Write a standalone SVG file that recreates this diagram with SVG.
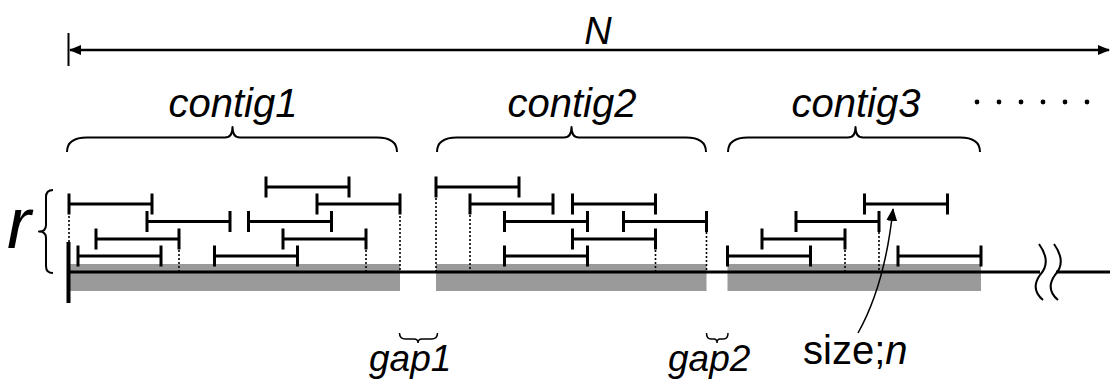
<svg xmlns="http://www.w3.org/2000/svg" xmlns:xlink="http://www.w3.org/1999/xlink" width="1110" height="383" viewBox="0 0 1110 383">
  <style>
    .lbl { font-family: "Liberation Sans", Arial, sans-serif; fill: #000; }
    .it { font-style: italic; }
    .brace { fill: none; stroke: #000; stroke-width: 2; stroke-linejoin: round; }
    .thin { fill: none; stroke: #000; stroke-width: 1.5; }
    .dot { stroke: #000; stroke-width: 1.6; stroke-dasharray: 2 2; fill: none; }
    .cov { fill: #9a9a9a; }
    .rd { fill: none; stroke: #000; stroke-width: 3; }
  </style>
  <defs>
    <!-- one read: a bar of 83 px with end ticks -->
    <path id="read" class="rd" d="M0,-10.5v21M0,0h83M83,-10.5v21"/>
    <marker id="head" viewBox="0 0 12 10" refX="11" refY="5" markerWidth="12" markerHeight="10" markerUnits="userSpaceOnUse" orient="auto-start-reverse">
      <path d="M0,0L12,5L0,10z" fill="#000"/>
    </marker>
    <marker id="head2" viewBox="0 0 13 11" refX="12" refY="5.5" markerWidth="13" markerHeight="11" markerUnits="userSpaceOnUse" orient="auto">
      <path d="M0,0L13,5.5L0,11z" fill="#000"/>
    </marker>
  </defs>

  <!-- genome length N -->
  <g id="length">
    <line x1="68.5" y1="33" x2="68.5" y2="66" stroke="#000" stroke-width="2"/>
    <text class="lbl it" x="598" y="44" font-size="38" text-anchor="middle">N</text>
  </g>

  <!-- coverage areas -->
  <g id="coverage">
    <rect class="cov" x="68" y="264" width="332" height="27"/>
    <rect class="cov" x="436" y="264" width="270.5" height="27"/>
    <rect class="cov" x="727.5" y="264" width="253.5" height="27"/>
  </g>

  <!-- reference axis with break -->
  <g id="axis">
    <line x1="68" y1="272" x2="1040" y2="272" stroke="#000" stroke-width="3"/>
    <line x1="1056" y1="272" x2="1110" y2="272" stroke="#000" stroke-width="3"/>
    <rect x="66.5" y="242" width="4" height="61" fill="#000"/>
    <path class="brace" d="M1039,244 Q1052,262 1040,275 Q1030,289 1043,300"/>
    <path class="brace" d="M1054,244 Q1067,262 1055,275 Q1045,289 1058,300"/>
  </g>

  <!-- read depth r -->
  <g id="depth">
    <text class="lbl it" x="7" y="248" font-size="72">r</text>
    <path class="brace" d="M53,190 Q46,190 46,197 L46,225 Q46,231.5 39,231.5 Q46,231.5 46,238 L46,266 Q46,273 53,273"/>
  </g>

  <g id="contig1">
    <path class="brace" d="M67,152 Q67,137.5 87,137.5 L225,137.5 Q232.5,137.5 232.5,127 Q232.5,137.5 240,137.5 L377,137.5 Q397,137.5 397,152"/>
    <text class="lbl it" x="233" y="117" font-size="40" text-anchor="middle">contig1</text>
    <use xlink:href="#read" x="266" y="187"/>
    <use xlink:href="#read" x="69" y="204"/>
    <use xlink:href="#read" x="317" y="204"/>
    <use xlink:href="#read" x="147" y="221.5"/>
    <use xlink:href="#read" x="248.5" y="221.5"/>
    <use xlink:href="#read" x="96" y="239"/>
    <use xlink:href="#read" x="283" y="239"/>
    <use xlink:href="#read" x="78" y="256"/>
    <use xlink:href="#read" x="214.5" y="256"/>
    <path class="dot" d="M69,216v26M179,250v21M366,250v21M400,216v55"/>
  </g>

  <g id="contig2">
    <path class="brace" d="M437,152 Q437,137.5 457,137.5 L564,137.5 Q571.5,137.5 571.5,127 Q571.5,137.5 579,137.5 L686,137.5 Q706,137.5 706,152"/>
    <text class="lbl it" x="572" y="117" font-size="40" text-anchor="middle">contig2</text>
    <use xlink:href="#read" x="436" y="187"/>
    <use xlink:href="#read" x="470" y="204"/>
    <use xlink:href="#read" x="572.5" y="204"/>
    <use xlink:href="#read" x="504.5" y="221.5"/>
    <use xlink:href="#read" x="623.5" y="221.5"/>
    <use xlink:href="#read" x="572.5" y="239"/>
    <use xlink:href="#read" x="504.5" y="256"/>
    <path class="dot" d="M436,198v73M470,215v56M655.5,250v21M706.5,232v39"/>
  </g>

  <g id="contig3">
    <path class="brace" d="M728,152 Q728,137.5 748,137.5 L848,137.5 Q855.5,137.5 855.5,127 Q855.5,137.5 863,137.5 L960,137.5 Q980,137.5 980,152"/>
    <text class="lbl it" x="856" y="117" font-size="40" text-anchor="middle">contig3</text>
    <use xlink:href="#read" x="864.5" y="204"/>
    <use xlink:href="#read" x="796" y="221.5"/>
    <use xlink:href="#read" x="762" y="239"/>
    <use xlink:href="#read" x="727.5" y="256"/>
    <use xlink:href="#read" x="898" y="256"/>
    <path class="dot" d="M845,250v21M879,232v39"/>
  </g>

  <!-- further contigs -->
  <g id="more" fill="#000">
    <circle cx="977" cy="102" r="2.4"/>
    <circle cx="999" cy="102" r="2.4"/>
    <circle cx="1021" cy="102" r="2.4"/>
    <circle cx="1043" cy="102" r="2.4"/>
    <circle cx="1065" cy="102" r="2.4"/>
    <circle cx="1087" cy="102" r="2.4"/>
  </g>

  <g id="gap1">
    <path class="thin" d="M399.5,333 Q399.5,339 405.5,339 L414,339 Q418,339 418,343 Q418,339 422,339 L431.5,339 Q437.5,339 437.5,333"/>
    <text class="lbl it" x="369" y="371" font-size="37">gap1</text>
  </g>

  <g id="gap2">
    <path class="thin" d="M706.5,333 Q706.5,339 711,339 L714,339 Q717,339 717,343 Q717,339 720,339 L723.5,339 Q728,339 728,333"/>
    <text class="lbl it" x="668" y="371" font-size="37">gap2</text>
  </g>

  <g id="readsize">
    <text class="lbl" x="803" y="364" font-size="40">size;<tspan class="it">n</tspan></text>
  </g>

  <g id="connectors">
    <line x1="70" y1="50" x2="1109" y2="50" stroke="#000" stroke-width="2.5" marker-start="url(#head)" marker-end="url(#head)"/>
    <path class="thin" d="M858,333 Q885,285 893,209" marker-end="url(#head2)"/>
  </g>
</svg>
